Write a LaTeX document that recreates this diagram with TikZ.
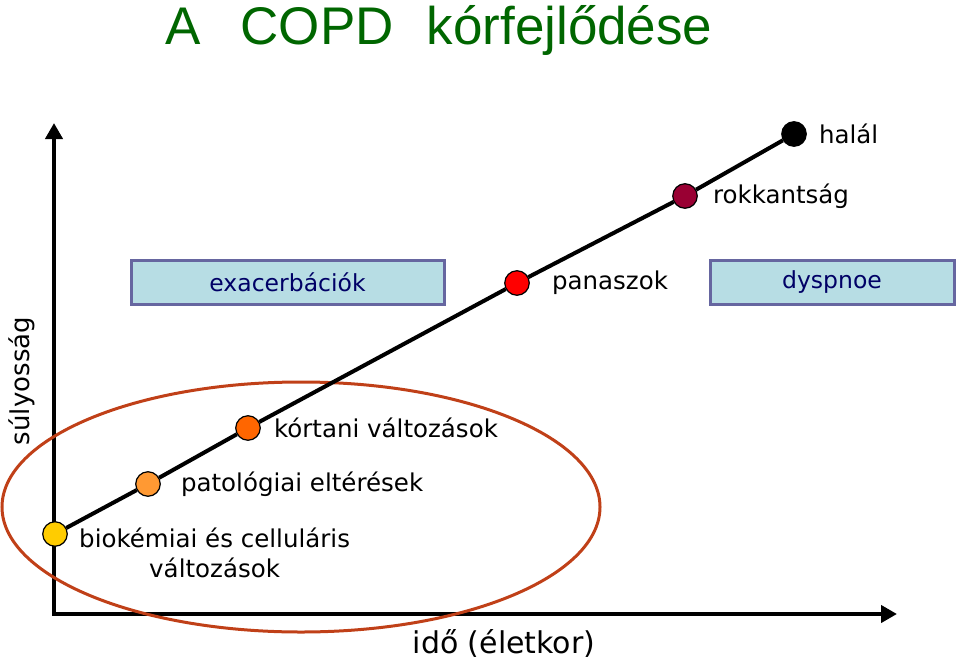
\documentclass[tikz,border=0pt]{standalone}
\usepackage{fontspec}
\setmainfont{DejaVu Sans}
\newfontfamily\titlefont{Liberation Sans}
\usetikzlibrary{positioning, arrows.meta, shapes.geometric}
\definecolor{titlegreen}{RGB}{0,102,0}
\definecolor{boxfill}{RGB}{183,221,228}
\definecolor{boxline}{RGB}{102,102,160}
\definecolor{boxtext}{RGB}{0,0,102}
\definecolor{ovalred}{RGB}{192,64,24}
\definecolor{dotyellow}{RGB}{255,204,0}
\definecolor{dotlight}{RGB}{255,153,51}
\definecolor{dotorange}{RGB}{255,102,0}
\definecolor{dotred}{RGB}{255,0,0}
\definecolor{dotdark}{RGB}{153,0,51}
\tikzstyle{Dot} = [circle, draw=black, line width=1.2pt, minimum size=24.5pt, inner sep=0pt]
\tikzstyle{Label} = [inner sep=0pt, font=\fontsize{24.5}{30}\selectfont]
\tikzstyle{Band} = [draw=boxline, fill=boxfill, line width=3pt, minimum height=44pt,
text=boxtext, font=\fontsize{23.5}{28}\selectfont]
\tikzstyle{Axis} = [line width=4pt, {Triangle[length=16pt,width=17pt]}-{Triangle[length=16pt,width=17pt]}]

\begin{document}
\begin{tikzpicture}[x=1pt, y=-1pt]
    \useasboundingbox (0,0) rectangle (960,661);
    \node [anchor=base west, inner sep=0pt, text=titlegreen, font=\titlefont\fontsize{53}{60}\selectfont]
        (0) at (165,45) {A\hspace{40pt}COPD\hspace{33pt}kórfejlődése};
    \coordinate (O) at (54,614);
    \coordinate (Y) at (54,123);
    \coordinate (X) at (897,614);
    \draw[Axis] (Y) -- (O) -- (X);
    \node [rotate=90, inner sep=0pt, font=\fontsize{26}{30}\selectfont] (13) at (22,381) {súlyosság};
    \node [inner sep=0pt, font=\fontsize{30}{34}\selectfont] (14) at (504,643) {idő (életkor)};
    \node [Band, minimum width=313pt] (15) at (287.5,282) {exacerbációk};
    \node [Band, minimum width=244pt] (16) at (832,282) {dyspnoe};
    \draw[ovalred, line width=3pt] (301,507) ellipse [x radius=299, y radius=125];
    \node [Dot, fill=dotyellow] (1) at (55,534) {};
    \node [Dot, fill=dotlight] (2) at (148,484) {};
    \node [Dot, fill=dotorange] (3) at (248,428) {};
    \node [Dot, fill=dotred] (4) at (517,283) {};
    \node [Dot, fill=dotdark] (5) at (685,196) {};
    \node [Dot, fill=black] (6) at (794,134) {};
    \draw[line width=4pt] (1) -- (2) -- (3) -- (4) -- (5) -- (6);
    \node [Label, anchor=north west, align=center] (7) at (79,528) {biokémiai és celluláris\\változások};
    \node [Label, right =20pt of 2] (8) {patológiai eltérések};
    \node [Label, right =13pt of 3] (9) {kórtani változások};
    \node [Label, right =22pt of 4] (10) {panaszok};
    \node [Label, right =15pt of 5] (11) {rokkantság};
    \node [Label, right =12pt of 6] (12) {halál};
\end{tikzpicture}
\end{document}
